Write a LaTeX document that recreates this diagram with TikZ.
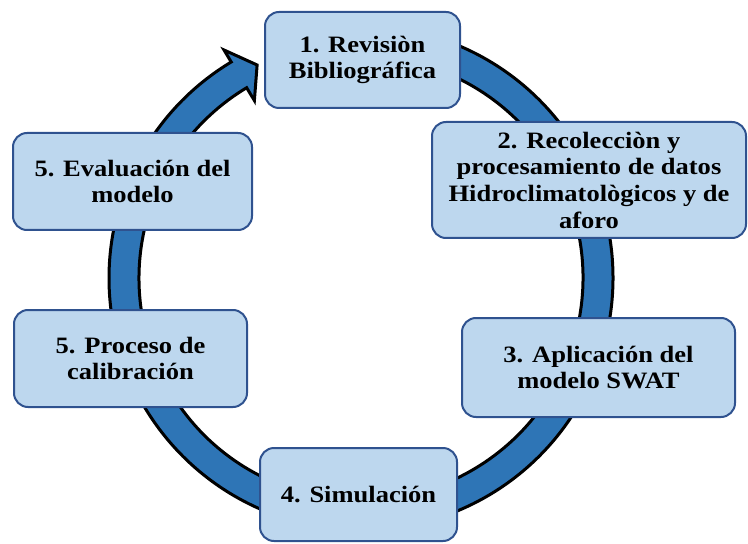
\documentclass[tikz,border=0pt]{standalone}
\usepackage{fontspec}
\setmainfont[FakeStretch=1.13]{Liberation Serif}
\definecolor{ringblue}{RGB}{46,117,182}
\definecolor{boxfill}{RGB}{189,215,238}
\definecolor{boxline}{RGB}{47,82,143}
\tikzset{
  stagebox/.style={draw=boxline, fill=boxfill, line width=1.5pt, rounded corners=10.5pt,
    align=center, inner sep=0pt,
    font=\fontsize{17.6pt}{20pt}\selectfont\bfseries},
  ringband/.style={fill=ringblue, draw=black, line width=2.25pt, line join=miter}
}
\begin{document}
\begin{tikzpicture}[x=0.75pt,y=0.75pt]
\useasboundingbox (0,0) rectangle (748,543);
% circular arrow
\begin{scope}[shift={(361,265)}]
\draw[ringband] (88:252) arc[start angle=88, end angle=-239, radius=252]
  -- (-239:266) -- (-244:237) -- (-239:207) -- (-239:222)
  arc[start angle=-239, end angle=88, radius=222] -- cycle;
\end{scope}
% stages
\node[stagebox, minimum width=146.25pt, minimum height=72pt] (s1) at (362.5,483)
  {1. Revisiòn\\Bibliográfica};
\node[stagebox, minimum width=235.5pt, minimum height=87pt] (s2) at (589,363)
  {2. Recolecciòn y\\procesamiento de datos\\Hidroclimatològicos y de\\aforo};
\node[stagebox, minimum width=204.75pt, minimum height=74.25pt] (s3) at (598.5,175.5)
  {3. Aplicación del\\modelo SWAT};
\node[stagebox, minimum width=147.75pt, minimum height=69.75pt] (s4) at (358.5,48.5)
  {4. Simulación};
\node[stagebox, minimum width=174.75pt, minimum height=72.75pt] (s6) at (130.5,184.5)
  {5. Proceso de\\calibración};
\node[stagebox, minimum width=179.25pt, minimum height=72.75pt] (s5) at (132.5,361.5)
  {5. Evaluación del\\modelo};
\end{tikzpicture}
\end{document}
